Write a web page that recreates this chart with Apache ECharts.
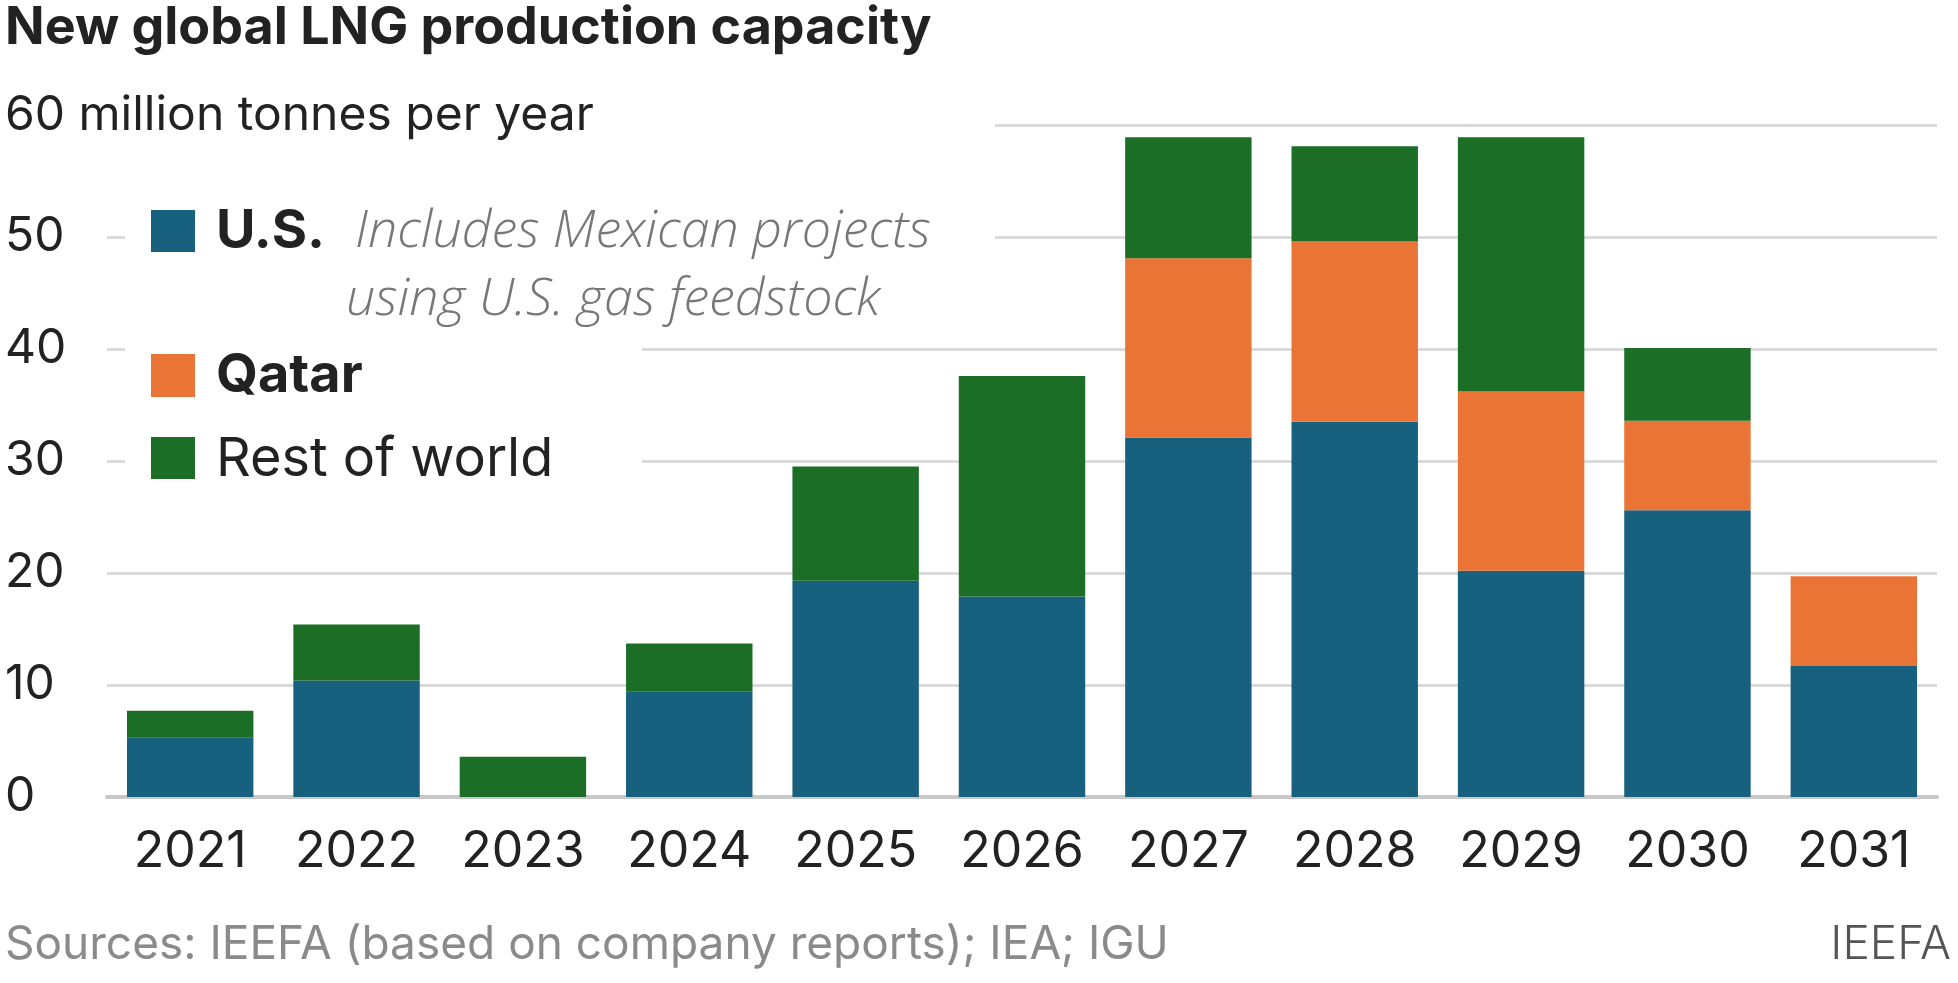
<!DOCTYPE html>
<html lang="en">
  <head>
    <meta charset="UTF-8" />
    <title>New global LNG production capacity</title>
    <script src="https://cdn.jsdelivr.net/npm/echarts@6/dist/echarts.min.js"></script>
    <style>
      html, body { margin: 0; padding: 0; background: #fff; }
      #main { width: 1958px; height: 983px; }
    </style>
  </head>
  <body>
    <div id="main"></div>
    <script>
      var years = ["2021", "2022", "2023", "2024", "2025", "2026", "2027", "2028", "2029", "2030", "2031"];
      var usValues = [5.3, 10.4, 0, 9.4, 19.3, 17.9, 32.1, 33.5, 20.2, 25.6, 11.7];
      var qatarValues = [0, 0, 0, 0, 0, 0, 16.0, 16.1, 16.0, 8.0, 8.0];
      var restValues = [2.4, 5.0, 3.6, 4.3, 10.2, 19.7, 10.8, 8.5, 22.7, 6.5, 0];
      var yTicks = [0, 10, 20, 30, 40, 50, 60];

      var blue = "#17617f";
      var orange = "#ea7435";
      var green = "#1c6e27";
      var font = "Inter, Roboto, sans-serif";

      var chart = echarts.init(document.getElementById("main"));
      var option = {
        animation: false,
        backgroundColor: "#fff",
        grid: { left: 107, right: 21, top: 125, bottom: 186, containLabel: false },
        xAxis: {
          type: "category",
          data: years,
          axisTick: { show: false },
          axisLine: { lineStyle: { color: "#c8c8c8", width: 4 } },
          axisLabel: { color: "#222", fontSize: 50, fontFamily: font, margin: 30 },
        },
        yAxis: {
          type: "value",
          min: yTicks[0],
          max: yTicks[yTicks.length - 1],
          interval: 10,
          axisLine: { show: false },
          axisTick: { show: false },
          splitLine: { lineStyle: { color: "#dadada", width: 3 } },
          axisLabel: {
            color: "#222",
            fontSize: 48,
            fontFamily: font,
            align: "left",
            margin: 102,
            formatter: function (v) { return v === 60 ? "" : String(v); },
          },
        },
        series: [
          { name: "U.S.", type: "bar", stack: "t", data: usValues, itemStyle: { color: blue }, barCategoryGap: "24%" },
          { name: "Qatar", type: "bar", stack: "t", data: qatarValues, itemStyle: { color: orange } },
          { name: "Rest of world", type: "bar", stack: "t", data: restValues, itemStyle: { color: green } },
        ],
        graphic: [
          { type: "rect", z: 100, shape: { x: 0, y: 100, width: 995, height: 50 }, style: { fill: "#fff" } },
          { type: "rect", z: 100, shape: { x: 125, y: 205, width: 870, height: 120 }, style: { fill: "#fff" } },
          { type: "rect", z: 100, shape: { x: 125, y: 340, width: 517, height: 150 }, style: { fill: "#fff" } },
          { type: "text", z: 110, left: 5, top: 2, style: { text: "New global LNG production capacity", font: "bold 52px " + font, fill: "#222" } },
          { type: "text", z: 110, left: 5, top: 92, style: { text: "60 million tonnes per year", font: "48px " + font, fill: "#222" } },
          { type: "rect", z: 110, shape: { x: 151, y: 210, width: 44, height: 42 }, style: { fill: blue } },
          { type: "text", z: 110, x: 216, y: 232, style: { text: "U.S.", font: "bold 54px " + font, fill: "#222", verticalAlign: "middle" } },
          { type: "text", z: 110, x: 355, y: 232, style: { text: "Includes Mexican projects", font: "italic 300 52px 'Open Sans', sans-serif", fill: "#777", verticalAlign: "middle" } },
          { type: "text", z: 110, x: 346, y: 300, style: { text: "using U.S. gas feedstock", font: "italic 300 52px 'Open Sans', sans-serif", fill: "#777", verticalAlign: "middle" } },
          { type: "rect", z: 110, shape: { x: 151, y: 354, width: 44, height: 43 }, style: { fill: orange } },
          { type: "text", z: 110, x: 216, y: 376, style: { text: "Qatar", font: "bold 54px " + font, fill: "#222", verticalAlign: "middle" } },
          { type: "rect", z: 110, shape: { x: 151, y: 437, width: 44, height: 42 }, style: { fill: green } },
          { type: "text", z: 110, x: 216, y: 460, style: { text: "Rest of world", font: "54px " + font, fill: "#222", verticalAlign: "middle" } },
          { type: "text", z: 110, x: 5, y: 945, style: { text: "Sources: IEEFA (based on company reports); IEA; IGU", font: "46px " + font, fill: "#8a8a8a", verticalAlign: "middle" } },
          { type: "text", z: 110, x: 1951, y: 945, style: { text: "IEEFA", font: "300 46px " + font, fill: "#555", align: "right", verticalAlign: "middle" } },
        ],
      };
      option && chart.setOption(option);
    </script>
  </body>
</html>
